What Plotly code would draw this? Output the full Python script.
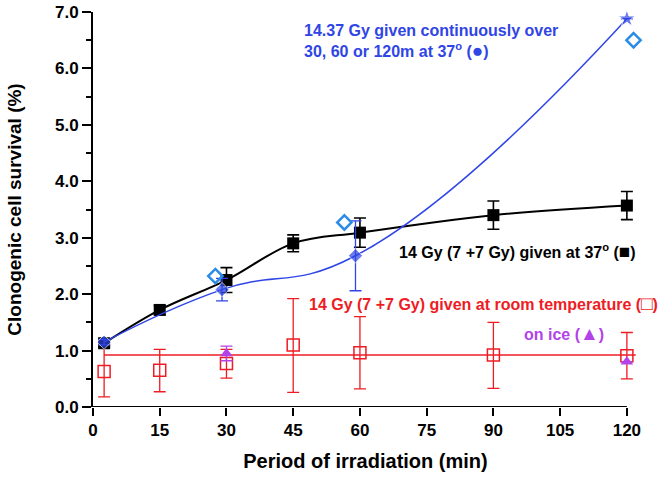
import plotly.graph_objects as go

# 14 Gy (7+7) at 37 C - black squares
blk_x = [2.5, 15, 30, 45, 60, 90, 120]
blk_y = [1.13, 1.72, 2.25, 2.90, 3.09, 3.40, 3.57]
blk_e = [0.06, 0.08, 0.22, 0.15, 0.26, 0.25, 0.25]

# 14.37 Gy continuous - blue
blu_x = [2.5, 29, 59, 120]
blu_y = [1.15, 2.08, 2.68, 6.88]
blu_e = [0.05, 0.20, 0.62, 0.0]

# open light-blue diamonds
dia_x = [27.5, 56.5, 121.5]
dia_y = [2.32, 3.27, 6.50]

# room temperature - red open squares
red_x = [2.5, 15, 30, 45, 60, 90, 120]
red_y = [0.63, 0.65, 0.77, 1.10, 0.96, 0.92, 0.91]
red_eup = [0.47, 0.37, 0.25, 0.82, 0.64, 0.58, 0.41]
red_edn = [0.45, 0.38, 0.26, 0.84, 0.64, 0.59, 0.41]
red_mean_x = [2.5, 122]
red_mean_y = [0.92, 0.92]

# on ice - purple triangles
ice_x = [30, 120]
ice_y = [0.95, 0.80]
ice_e = [0.13, 0.0]

x_ticks = [0, 15, 30, 45, 60, 75, 90, 105, 120]
y_ticks = [0, 1, 2, 3, 4, 5, 6, 7]

BLUE = "#2f45e6"
LBLUE = "#2a8ce6"
RED = "#ee1c24"
PURP = "#b342e8"

fig = go.Figure()

fig.add_trace(go.Scatter(x=red_mean_x, y=red_mean_y, mode="lines",
                         line=dict(color=RED, width=1.5), hoverinfo="skip"))
fig.add_trace(go.Scatter(x=red_x, y=red_y, mode="markers",
                         marker=dict(symbol="square-open", size=12, color=RED, line=dict(width=1.5)),
                         error_y=dict(type="data", array=red_eup, arrayminus=red_edn, color=RED,
                                      thickness=1.3, width=6)))
fig.add_trace(go.Scatter(x=ice_x, y=ice_y, mode="markers",
                         marker=dict(symbol="triangle-up", size=11, color=PURP),
                         error_y=dict(type="data", array=ice_e, color=PURP, thickness=1.3, width=6)))
fig.add_trace(go.Scatter(x=blk_x, y=blk_y, mode="lines+markers",
                         line=dict(color="black", width=2, shape="spline", smoothing=1.0),
                         marker=dict(symbol="square", size=12, color="black"),
                         error_y=dict(type="data", array=blk_e, color="black", thickness=1.6, width=6)))
fig.add_trace(go.Scatter(x=blu_x, y=blu_y, mode="lines+markers", cliponaxis=False,
                         line=dict(color=BLUE, width=1.5, shape="spline", smoothing=1.3),
                         marker=dict(symbol=["diamond", "diamond", "diamond", "star"], size=[11, 11, 11, 13],
                                     color=BLUE),
                         error_y=dict(type="data", array=blu_e, color=BLUE, thickness=1.3, width=6)))
fig.add_trace(go.Scatter(x=dia_x, y=dia_y, mode="markers", cliponaxis=False,
                         marker=dict(symbol="diamond-open", size=11, color=LBLUE, line=dict(width=2.5))))

# x axis line spanning only 0..120
fig.add_shape(type="line", xref="x", yref="y", x0=x_ticks[0], x1=x_ticks[-1], y0=0, y1=0,
              line=dict(color="black", width=2))

FONT = "Liberation Sans"
SYM = '<span style="font-size:19px">%s</span>'
fig.add_annotation(x=47, y=6.47, xref="x", yref="y", xanchor="left", yanchor="middle", showarrow=False,
                   align="left",
                   text="<b>14.37 Gy given continuously over<br>30, 60 or 120m at 37<sup>o</sup> (" + SYM % "●" + ")</b>",
                   font=dict(family=FONT, size=16, color=BLUE))
fig.add_annotation(x=68.3, y=2.75, xref="x", yref="y", xanchor="left", yanchor="middle", showarrow=False,
                   text="<b>14 Gy (7 +7 Gy) given at 37<sup>o</sup> (" + SYM % "■" + ")</b>",
                   font=dict(family=FONT, size=16, color="black"))
fig.add_annotation(x=48.2, y=1.84, xref="x", yref="y", xanchor="left", yanchor="middle", showarrow=False,
                   text="<b>14 Gy (7 +7 Gy) given at room temperature (" + SYM % "□" + ")</b>",
                   font=dict(family=FONT, size=16, color=RED))
fig.add_annotation(x=96.4, y=1.31, xref="x", yref="y", xanchor="left", yanchor="middle", showarrow=False,
                   text="<b>on ice (" + SYM % "▲" + ")</b>",
                   font=dict(family=FONT, size=16, color=PURP))

fig.update_layout(
    width=667, height=480,
    margin=dict(l=93, r=29, t=12, b=73),
    plot_bgcolor="white", paper_bgcolor="white",
    showlegend=False,
    font=dict(family=FONT, color="black"),
    xaxis=dict(range=[0, 122.5], tickvals=x_ticks,
               ticktext=["<b>%d</b>" % v for v in x_ticks],
               ticks="outside", ticklen=8, tickwidth=2, tickcolor="black",
               showline=False, showgrid=False, zeroline=False,
               tickfont=dict(size=17, family=FONT), automargin=False,
               title=dict(text="<b>Period of irradiation (min)</b>", font=dict(size=20, family=FONT), standoff=14)),
    yaxis=dict(range=[0, 7], tickvals=y_ticks,
               ticktext=["<b>%.1f</b>" % v for v in y_ticks],
               ticks="outside", ticklen=9, tickwidth=2, tickcolor="black",
               minor=dict(dtick=0.5, ticks="outside", ticklen=5, tickwidth=1.5, tickcolor="black"),
               showline=True, linecolor="black", linewidth=2, showgrid=False, zeroline=False,
               tickfont=dict(size=17, family=FONT), automargin=False,
               title=dict(text="<b>Clonogenic cell survival (%)</b>", font=dict(size=19, family=FONT), standoff=28)),
)

fig.write_html("out.html", config={"displayModeBar": False},
               post_script="document.body.style.margin='0';")
